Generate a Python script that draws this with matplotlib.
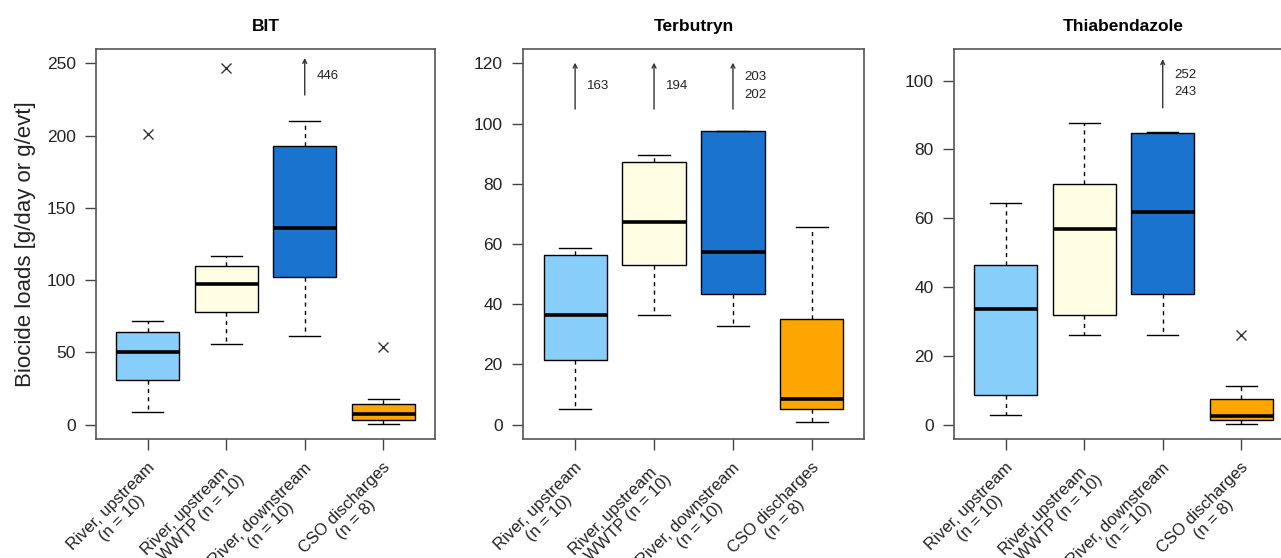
import numpy as np
import matplotlib
matplotlib.use("Agg")
import matplotlib.pyplot as plt
import matplotlib.transforms as mtransforms

plt.rcParams['font.family'] = ['Liberation Sans', 'DejaVu Sans']

# groups and colours
groups = ["River, upstream\n(n = 10)",
          "River, upstream\n+ WWTP (n = 10)",
          "River, downstream\n(n = 10)",
          "CSO discharges\n(n = 8)"]
box_colors = ["#87CEFA", "#FFFDE2", "#1A73CF", "#FFA500"]

titles = ["BIT", "Terbutryn", "Thiabendazole"]

# box statistics per compound: whislo, q1, med, q3, whishi
bit_stats = [[9, 31, 50, 64, 71.5],
             [56, 78, 97, 110, 117],
             [61, 102, 136, 193, 210],
             [0.7, 3, 7.6, 14.5, 18]]
bit_fliers = [[201], [247], [446], [54]]

terb_stats = [[5.3, 21.5, 36.4, 56.2, 58.8],
              [36.4, 52.9, 67.4, 87.3, 89.6],
              [32.7, 43.3, 57.5, 97.5, 97.5],
              [1, 5.3, 8.6, 35, 65.8]]
terb_fliers = [[163], [194], [203, 202], []]

thia_stats = [[2.9, 8.7, 33.6, 46.4, 64.3],
              [26.1, 31.9, 56.8, 69.9, 87.8],
              [26, 38, 61.7, 84.9, 85],
              [0.3, 1.4, 2.6, 7.5, 11.3]]
thia_fliers = [[], [], [252, 243], [26]]

y_max = [250, 120, 105]
y_ticks = [np.arange(0, 251, 50), np.arange(0, 121, 20), np.arange(0, 101, 20)]

all_stats = [bit_stats, terb_stats, thia_stats]
all_fliers = [bit_fliers, terb_fliers, thia_fliers]

W, H = 1281, 558
fig = plt.figure(figsize=(W / 100, H / 100), dpi=100)

# axes frames in pixels (left, right)
frames = [(96, 435), (523, 864), (954, 1293)]
top_px, bot_px = 49, 439
# arrow extent (axes fraction) for off-scale values
arrow_ext = [(0.882, 0.977), (0.846, 0.965), (0.849, 0.974)]

for k in range(3):
    l, r = frames[k]
    ax = fig.add_axes([l / W, 1 - bot_px / H, (r - l) / W, (bot_px - top_px) / H])
    ymax = y_max[k]
    stats = []
    for s, fl in zip(all_stats[k], all_fliers[k]):
        stats.append(dict(whislo=s[0], q1=s[1], med=s[2], q3=s[3], whishi=s[4],
                          fliers=[v for v in fl if v <= ymax]))
    bp = ax.bxp(stats, positions=range(1, 5), widths=0.8, patch_artist=True,
                capwidths=0.4,
                boxprops=dict(edgecolor="black", linewidth=1.0),
                medianprops=dict(color="black", linewidth=2.6),
                whiskerprops=dict(color="black", linewidth=1.0, linestyle=(0, (3, 3))),
                capprops=dict(color="black", linewidth=1.0),
                flierprops=dict(marker="x", markersize=7, markeredgecolor="#333333",
                                markeredgewidth=1.0, linestyle="none"))
    for patch, c in zip(bp["boxes"], box_colors):
        patch.set_facecolor(c)

    # off-scale values: arrow with labels
    trans = mtransforms.blended_transform_factory(ax.transData, ax.transAxes)
    lo, hi = arrow_ext[k]
    for i, fl in enumerate(all_fliers[k]):
        big = [v for v in fl if v > ymax]
        if not big:
            continue
        ax.annotate("", xy=(i + 1, hi), xytext=(i + 1, lo), xycoords=trans,
                    arrowprops=dict(arrowstyle="->", color="#333333", lw=1.0,
                                    mutation_scale=7, shrinkA=0, shrinkB=0))
        ax.text(i + 1.15, (lo + hi) / 2, "\n".join(str(v) for v in big),
                transform=trans, fontsize=9.5, va="center", ha="left",
                color="#222222", linespacing=1.6)

    rng = ymax * 0.04
    ax.set_ylim(-rng, ymax + rng)
    ax.set_xlim(0.5 - 0.16, 4.5 + 0.16)
    ax.set_yticks(y_ticks[k])
    ax.set_yticklabels([str(v) for v in y_ticks[k]], fontsize=12.5, color="#222222")
    ax.set_xticks(range(1, 5))
    ax.set_xticklabels([])
    ax.tick_params(axis="both", direction="out", length=8, width=1, color="#444444")
    ax.tick_params(axis="y", pad=6.5)
    for sp in ax.spines.values():
        sp.set_color("#555555")
        sp.set_linewidth(1.2)

    # rotated group labels
    off = mtransforms.ScaledTranslation(10 / 100, -32 / 100, fig.dpi_scale_trans)
    lab_trans = trans + off
    for i, g in enumerate(groups):
        ax.text(i + 1, 0, g, transform=lab_trans, rotation=45, rotation_mode="anchor",
                ha="right", va="center", multialignment="center",
                fontsize=12, color="#222222", linespacing=1.1)

    ax.set_title(titles[k], fontsize=12.5, fontweight="bold", pad=13)
    if k == 0:
        ax.set_ylabel("Biocide loads [g/day or g/evt]", fontsize=16, color="#222222",
                      labelpad=8)

fig.savefig("out.png", dpi=100)
